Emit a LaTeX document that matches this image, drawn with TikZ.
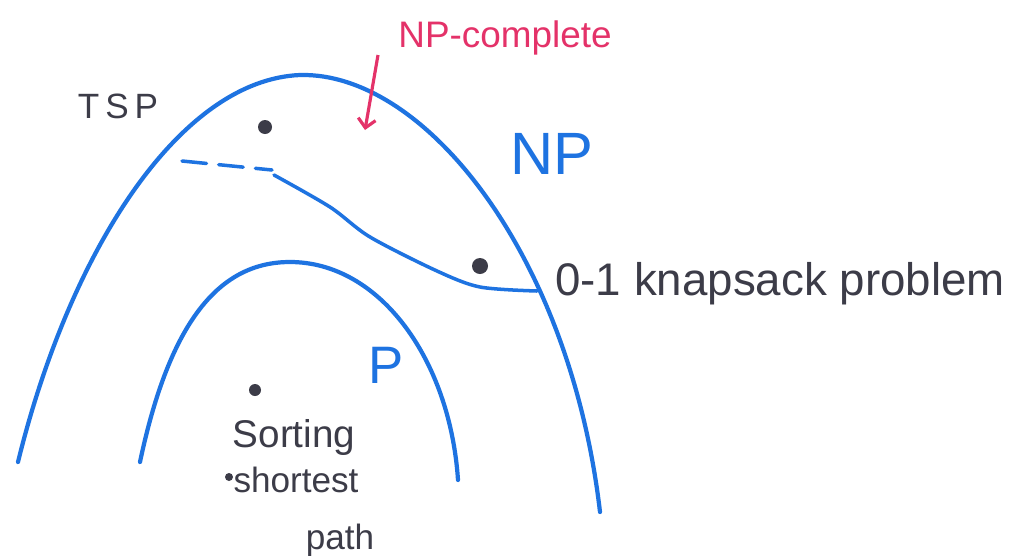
\documentclass[tikz,border=0pt]{standalone}
\usepackage{fontspec}
\setmainfont{Liberation Sans}
\usetikzlibrary{arrows.meta}
\definecolor{penblue}{RGB}{30,115,225}
\definecolor{penpink}{RGB}{228,50,105}
\definecolor{penink}{RGB}{60,60,72}
\begin{document}
\begin{tikzpicture}[x=0.02cm,y=-0.02cm,
  curve/.style={penblue,line width=2.4pt,line cap=round},
  border/.style={penblue,line width=2pt,line cap=round},
  dot/.style={circle,fill=penink,inner sep=0pt,minimum size=#1},
  dot/.default=0.26cm,
  inktext/.style={text=penink,inner sep=0pt},
  bluetext/.style={text=penblue,inner sep=0pt},
  pinktext/.style={text=penpink,inner sep=0pt},
  pointer/.style={penpink,line width=1.8pt,-{Straight Barb[length=5pt,width=10pt]}}]
\useasboundingbox[fill=white] (0,0) rectangle (1023,555);
% NP region
\draw[curve] (18,462) .. controls (70,250) and (180,80) .. (300,75)
  .. controls (425,72) and (570,255) .. (600,512);
% P region
\draw[curve] (140,462) .. controls (170,320) and (220,262) .. (290,262)
  .. controls (380,262) and (450,360) .. (458,480);
% NP-complete border
\draw[border,dash pattern=on 14pt off 7pt] (182,161) -- (272,170);
\draw[border] plot[smooth] coordinates {(274,175) (330,207) (370,237) (437,271) (480,287) (537,291)};
% dots
\node[dot=0.28cm] (tspdot) at (265,127) {};
\node[dot=0.32cm] (kdot) at (480,266) {};
\node[dot=0.24cm] (sdot) at (255,390) {};
\node[dot=0.16cm] (spdot) at (229,477) {};
% labels
\node[inktext,font=\fontsize{20}{24}\selectfont] (tsp) at (118,106) {T\,S\,P};
\node[pinktext,font=\fontsize{21}{25}\selectfont] (npc) at (505,38) {NP-complete};
\node[bluetext,font=\fontsize{34}{40}\selectfont] (np) at (552,154) {NP};
\node[bluetext,font=\fontsize{30}{36}\selectfont] (p) at (386,365) {P};
\node[inktext,font=\fontsize{26}{30}\selectfont,anchor=base west] (knap) at (555,295) {0-1 knapsack problem};
\node[inktext,font=\fontsize{22}{26}\selectfont,anchor=base] (sort) at (294,447) {Sorting};
\node[inktext,font=\fontsize{20}{24}\selectfont,anchor=base] (short) at (296,492) {shortest};
\node[inktext,font=\fontsize{20}{24}\selectfont,anchor=base] (path) at (340,549) {path};
% arrow
\coordinate (atop) at (378,55);
\coordinate (atip) at (365,130);
\draw[pointer] (atop) -- (atip);
\end{tikzpicture}
\end{document}
